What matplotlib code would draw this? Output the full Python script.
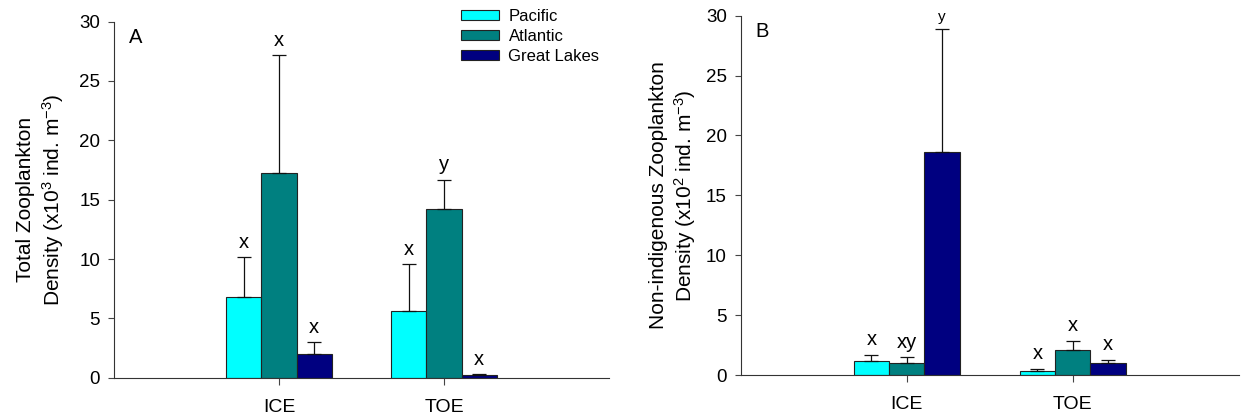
import matplotlib
matplotlib.use('Agg')
import matplotlib.pyplot as plt
from matplotlib.patches import Patch
import numpy as np

plt.rcParams['font.family'] = ['Liberation Sans', 'DejaVu Sans']
plt.rcParams['mathtext.fontset'] = 'custom'
plt.rcParams['mathtext.rm'] = 'Liberation Sans'
plt.rcParams['mathtext.it'] = 'Liberation Sans:italic'

# sites and regions
sites = ['ICE', 'TOE']
regions = ['Pacific', 'Atlantic', 'Great Lakes']
colors = ['#00FFFF', '#008080', '#000080']

# A: total zooplankton density (x10^3 ind. m^-3), mean and SE
total_mean = {'Pacific': [6.82, 5.59], 'Atlantic': [17.27, 14.24], 'Great Lakes': [2.0, 0.2]}
total_se = {'Pacific': [3.32, 3.96], 'Atlantic': [9.89, 2.42], 'Great Lakes': [1.0, 0.1]}
total_letters = {'Pacific': ['x', 'x'], 'Atlantic': ['x', 'y'], 'Great Lakes': ['x', 'x']}

# B: non-indigenous zooplankton density (x10^2 ind. m^-3), mean and SE
nis_mean = {'Pacific': [1.19, 0.31], 'Atlantic': [0.97, 2.06], 'Great Lakes': [18.6, 1.03]}
nis_se = {'Pacific': [0.48, 0.19], 'Atlantic': [0.50, 0.78], 'Great Lakes': [10.25, 0.25]}
nis_letters = {'Pacific': ['x', 'x'], 'Atlantic': ['xy', 'x'], 'Great Lakes': ['y', 'x']}

fig = plt.figure(figsize=(12.41, 4.17), dpi=100)
axA = fig.add_axes([0.0919, 0.0942, 0.3989, 0.854])
axB = fig.add_axes([0.5969, 0.1007, 0.4013, 0.8616])

x = np.arange(1, len(sites) + 1)
w = 0.213


def draw_panel(ax, means, ses, letters, ylabel, tag, small=None):
    for i, reg in enumerate(regions):
        pos = x + (i - 1) * w
        m = np.array(means[reg])
        e = np.array(ses[reg])
        ax.bar(pos, m, w, color=colors[i], edgecolor='#222222', linewidth=0.8,
               yerr=[np.zeros_like(e), e], capsize=5,
               error_kw=dict(ecolor='#111111', elinewidth=0.9, capthick=0.9), zorder=2)
        for j in range(len(sites)):
            fs = 14.5
            if small is not None and (reg, j) == small:
                fs = 11
            ax.annotate(letters[reg][j], (pos[j], m[j] + e[j]), xytext=(0, 4),
                        textcoords='offset points', ha='center', va='bottom',
                        fontsize=fs)
    ax.set_xlim(0, 3)
    ax.set_ylim(0, 30)
    ax.set_yticks(np.arange(0, 31, 5))
    ax.set_xticks(x)
    ax.set_xticklabels(sites, fontsize=14)
    ax.tick_params(axis='y', labelsize=13.5, length=4, pad=6, color='#444444')
    ax.tick_params(axis='x', length=5, pad=10, color='#444444')
    for s in ['top', 'right']:
        ax.spines[s].set_visible(False)
    for s in ['left', 'bottom']:
        ax.spines[s].set_color('#333333')
    ax.set_ylabel(ylabel, fontsize=15, linespacing=1.25)
    ax.text(0.03, 0.955, tag, transform=ax.transAxes, fontsize=14.5,
            ha='left', va='center')


draw_panel(axA, total_mean, total_se, total_letters,
           'Total Zooplankton\nDensity (x10$^3$ ind. m$^{-3}$)', 'A')
axA.yaxis.set_label_coords(-0.098, 0.5)

draw_panel(axB, nis_mean, nis_se, nis_letters,
           'Non-indigenous Zooplankton\nDensity (x10$^2$ ind. m$^{-3}$)', 'B',
           small=('Great Lakes', 0))
axB.yaxis.set_label_coords(-0.085, 0.5)

# legend in the top right of panel A
handles = [Patch(facecolor=c, edgecolor='#222222', linewidth=0.8) for c in colors]
axA.legend(handles, regions, loc='upper left', bbox_to_anchor=(461 / 1241, 1 - 9 / 417),
           bbox_transform=fig.transFigure, frameon=False, fontsize=12,
           handlelength=2.3, handleheight=0.55, handletextpad=0.55,
           labelspacing=0.3, borderpad=0, borderaxespad=0)

fig.savefig('out.png', dpi=100)
